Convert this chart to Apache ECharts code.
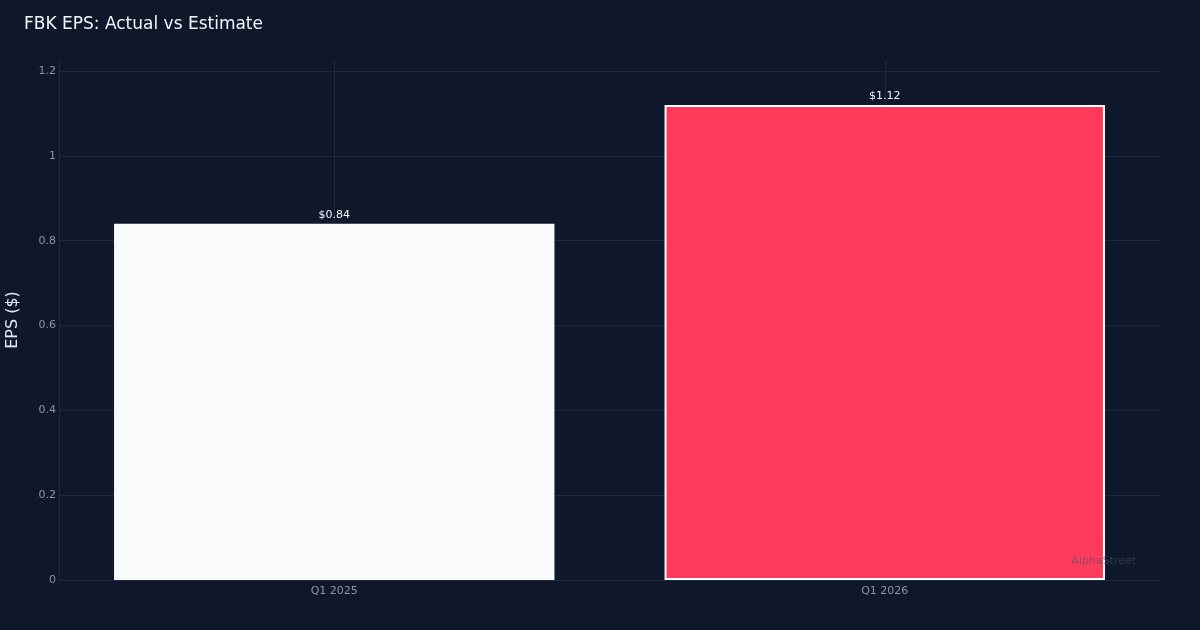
<!DOCTYPE html>
<html>
<head>
<meta charset="utf-8">
<title>FBK EPS</title>
<script src="https://cdn.jsdelivr.net/npm/echarts@6/dist/echarts.min.js"></script>
<style>
  html, body { margin: 0; padding: 0; background: #0f172a; }
  #chart { width: 1200px; height: 630px; }
</style>
</head>
<body>
<div id="chart"></div>
<script>
var categories = ['Q1 2025', 'Q1 2026'];
var epsValues = [0.84, 1.12];
var barColors = ['#f8fafc', '#ff3b5c'];
var barBorders = [null, '#ffffff'];

var chart = echarts.init(document.getElementById('chart'));

// one bar per quarter, the second (estimate) gets a white outline
var barData = epsValues.map(function (v, i) {
    var item = { value: v, itemStyle: { color: barColors[i] } };
    if (barBorders[i]) {
        item.itemStyle.borderColor = barBorders[i];
        item.itemStyle.borderWidth = 2;
    }
    return item;
});

var option = {
    backgroundColor: '#0f172a',
    textStyle: { fontFamily: 'DejaVu Sans' },
    title: {
        text: 'FBK EPS: Actual vs Estimate',
        left: 24,
        top: 16,
        padding: 0,
        textStyle: { color: '#f1f5f9', fontSize: 17, fontWeight: 'normal', fontFamily: 'DejaVu Sans' }
    },
    grid: { left: 59, right: 40, top: 60, bottom: 50, outerBoundsMode: 'none' },
    xAxis: {
        type: 'category',
        data: categories,
        axisLine: { show: true, lineStyle: { color: '#1e293b' } },
        axisTick: { show: false, alignWithLabel: true },
        axisLabel: { color: '#8b95a8', fontSize: 11, margin: 6 },
        splitLine: { show: true, alignWithLabel: true, lineStyle: { color: '#1e293b' } }
    },
    yAxis: {
        type: 'value',
        min: 0,
        max: 1.226,
        interval: 0.2,
        name: 'EPS ($)',
        nameLocation: 'middle',
        nameGap: 38,
        nameTextStyle: { color: '#e2e8f0', fontSize: 16 },
        axisLine: { show: true, lineStyle: { color: '#1e293b' } },
        axisTick: { show: false },
        axisLabel: { color: '#8b95a8', fontSize: 11, margin: 3, showMaxLabel: false },
        splitLine: { show: true, showMaxLine: false, lineStyle: { color: '#1e293b' } }
    },
    series: [{
        type: 'bar',
        data: barData,
        barWidth: '80%',
        label: {
            show: true,
            position: 'top',
            distance: 3,
            color: '#f1f5f9',
            fontSize: 11,
            formatter: function (p) { return '$' + p.value.toFixed(2); }
        }
    }],
    graphic: [{
        type: 'text',
        right: 64,
        top: 556,
        z: 100,
        style: { text: 'AlphaStreet', fill: '#4a5468', opacity: 0.6, fontSize: 11, fontFamily: 'DejaVu Sans' }
    }]
};
chart.setOption(option);
</script>
</body>
</html>
